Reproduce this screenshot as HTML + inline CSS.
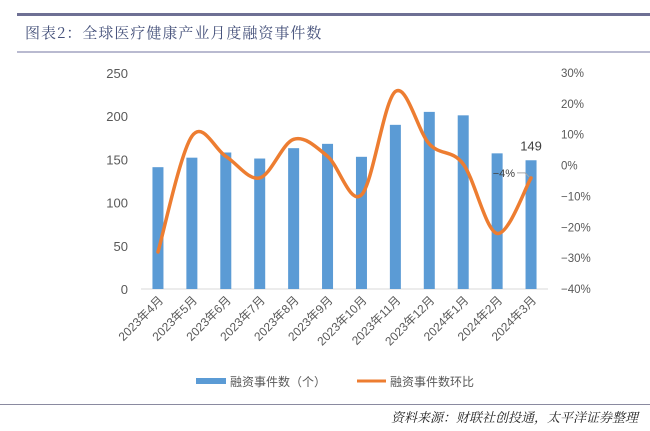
<!DOCTYPE html>
<html><head><meta charset="utf-8"><style>
html,body{margin:0;padding:0;background:#fff;}
body{width:650px;height:431px;overflow:hidden;position:relative;font-family:"Liberation Sans","Noto Sans CJK SC",sans-serif;}
</style></head><body>
<div style="position:absolute;left:17px;top:13px;width:633px;height:3px;background:#6e7094;"></div>
<div style="position:absolute;left:25px;top:22px;font-size:15px;color:#44507a;font-family:'Noto Serif CJK SC','Liberation Serif',serif;letter-spacing:1px;">图表2：全球医疗健康产业月度融资事件数</div>
<div style="position:absolute;left:17px;top:51px;width:633px;height:2px;background:#b9bad0;"></div>
<svg width="650" height="431" style="position:absolute;left:0;top:0" id="chart"></svg>
<div style="position:absolute;left:0;top:404px;width:650px;height:1px;background:#8a8aa0;"></div>
<div style="position:absolute;right:12px;top:407px;font-size:13px;font-style:italic;color:#222;font-family:'Noto Serif CJK SC',serif;">资料来源：财联社创投通，太平洋证券整理</div>
<script>
const categories=["2023年4月","2023年5月","2023年6月","2023年7月","2023年8月","2023年9月","2023年10月","2023年11月","2023年12月","2024年1月","2024年2月","2024年3月"];
const counts=[141,152,158,151,163,168,153,190,205,201,157,149];
const mom=[-28,9.5,3,-4,8.5,3,-9.5,24,7,0.5,-22,-4];
const leftTicks=[0,50,100,150,200,250];
const rightTicks=[-40,-30,-20,-10,0,10,20,30];
const NS="http://www.w3.org/2000/svg";
const svg=document.getElementById('chart');
const yTop=73,yBot=289,x0=141,x1=548;
const yL=v=>yBot-(v/250)*(yBot-yTop);
const yR=v=>yBot-((v+40)/70)*(yBot-yTop);
const step=(x1-x0)/categories.length;
const xC=i=>x0+step*(i+0.5);
function mk(t,a){const e=document.createElementNS(NS,t);for(const k in a)e.setAttribute(k,a[k]);svg.appendChild(e);return e;}
leftTicks.forEach(v=>{const t=mk('text',{x:128,y:yL(v)+5,'text-anchor':'end','font-size':13,fill:'#595959'});t.textContent=v;

});
rightTicks.forEach(v=>{const t=mk('text',{x:561,y:yR(v)+4,'font-size':11.5,fill:'#595959'});t.textContent=(v<0?'−':'')+Math.abs(v)+'%';

});
const ax=mk('line',{x1:x0,x2:x1,y1:yBot,y2:yBot,stroke:'#d9d9d9','stroke-width':1});


counts.forEach((v,i)=>{const r=mk('rect',{x:xC(i)-5.5,y:yL(v),width:11,height:yBot-yL(v),fill:'#5b9bd5'});

});
categories.forEach((c,i)=>{const t=mk('text',{x:0,y:0,'text-anchor':'end','font-size':12,fill:'#595959',transform:`translate(${xC(i)+6},${yBot+12}) rotate(-45)`});t.textContent=c;

});
const pts=mom.map((v,i)=>[xC(i),yR(v)]);
let d=`M${pts[0][0]},${pts[0][1]}`;
for(let i=0;i<pts.length-1;i++){const p0=pts[Math.max(0,i-1)],p1=pts[i],p2=pts[i+1],p3=pts[Math.min(pts.length-1,i+2)];
const c1=[p1[0]+(p2[0]-p0[0])/6,p1[1]+(p2[1]-p0[1])/6],c2=[p2[0]-(p3[0]-p1[0])/6,p2[1]-(p3[1]-p1[1])/6];
d+=` C${c1[0]},${c1[1]} ${c2[0]},${c2[1]} ${p2[0]},${p2[1]}`;}
const ln=mk('path',{d:d,fill:'none',stroke:'#ed7d31','stroke-width':3.5,'stroke-linecap':'round'});


const n=counts.length-1;
const lb=mk('text',{x:xC(n),y:yL(counts[n])-10,'text-anchor':'middle','font-size':13,fill:'#404040'});lb.textContent=counts[n];


const lm=mk('text',{x:xC(n)-16,y:yR(mom[n])-1,'text-anchor':'end','font-size':11,fill:'#404040'});lm.textContent='−'+Math.abs(mom[n])+'%';


const lk=mk('path',{d:`M${xC(n)-14},${yR(mom[n])-5} h8 l4,4`,fill:'none',stroke:'#a6a6a6','stroke-width':1});


const g1=mk('rect',{x:196,y:378,width:30,height:6,fill:'#5b9bd5'});


const t1=mk('text',{x:230,y:386,'font-size':12,fill:'#595959'});t1.textContent='融资事件数（个）';


const g2=mk('line',{x1:357,x2:386,y1:381,y2:381,stroke:'#ed7d31','stroke-width':3});


const t2=mk('text',{x:390,y:386,'font-size':12,fill:'#595959'});t2.textContent='融资事件数环比';


</script>
</body></html>
